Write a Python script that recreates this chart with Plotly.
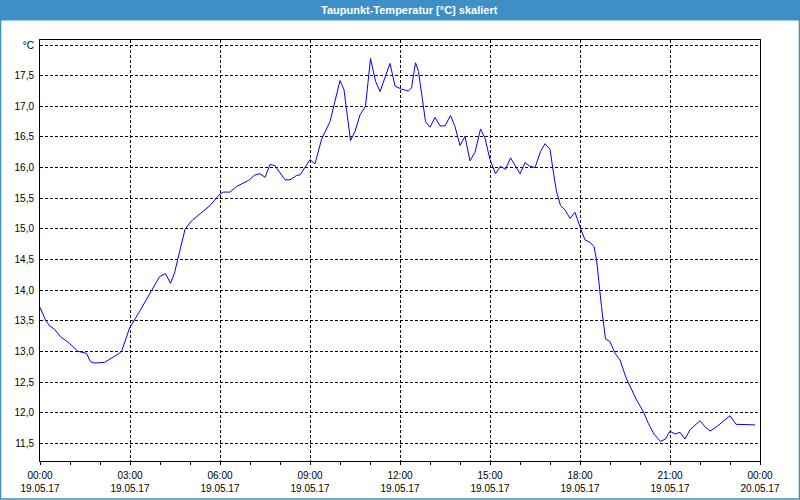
import plotly.graph_objects as go

times = ["00:00","00:11","00:19","00:29","00:41","00:59","01:16","01:33","01:41","01:49",
         "02:09","02:39","02:44","02:59","03:19","03:43","03:59","04:11","04:21","04:29",
         "04:36","04:46","04:50","05:03","05:27","05:40","06:00","06:07","06:20","06:33",
         "06:57","07:10","07:20","07:30","07:40","07:50","08:10","08:20","08:33","08:40",
         "09:00","09:10","09:23","09:40","10:00","10:08","10:13","10:21","10:30","10:40",
         "10:51","11:01","11:11","11:20","11:40","11:50","12:03","12:17","12:23","12:31",
         "12:37","12:47","12:51","13:00","13:10","13:20","13:30","13:41","13:50","14:00",
         "14:10","14:20","14:30","14:41","14:50","15:00","15:11","15:21","15:31","15:41",
         "16:00","16:10","16:20","16:30","16:41","16:50","17:00","17:07","17:13","17:21",
         "17:30","17:40","17:50","18:01","18:10","18:20","18:28","18:33","18:39","18:43",
         "18:47","18:51","19:00","19:10","19:20","19:33","19:53","20:07","20:17","20:28",
         "20:41","20:51","21:00","21:10","21:20","21:30","21:40","22:00","22:10","22:20",
         "22:30","23:00","23:12","23:23","23:50"]
values = [13.72,13.51,13.42,13.36,13.24,13.13,13.00,12.97,12.83,12.81,
          12.82,12.97,13.02,13.38,13.65,14.00,14.22,14.27,14.11,14.28,
          14.52,14.82,14.99,15.13,15.30,15.38,15.57,15.60,15.60,15.69,
          15.79,15.88,15.90,15.84,16.05,16.03,15.80,15.80,15.87,15.88,
          16.13,16.06,16.46,16.75,17.42,17.27,16.95,16.44,16.59,16.86,
          17.00,17.78,17.41,17.24,17.70,17.33,17.28,17.25,17.30,17.71,
          17.57,17.00,16.75,16.66,16.82,16.68,16.68,16.85,16.67,16.36,
          16.51,16.11,16.25,16.63,16.48,16.13,15.90,16.02,15.97,16.16,
          15.90,16.08,16.02,16.00,16.26,16.39,16.30,15.91,15.61,15.38,
          15.31,15.17,15.27,15.01,14.82,14.78,14.71,14.50,14.00,13.73,
          13.46,13.20,13.16,12.97,12.86,12.55,12.21,12.01,11.82,11.65,
          11.53,11.57,11.70,11.65,11.68,11.57,11.72,11.87,11.77,11.70,
          11.75,11.95,11.81,11.81,11.80]

y_tick_vals = [11.5, 12.0, 12.5, 13.0, 13.5, 14.0, 14.5, 15.0, 15.5, 16.0, 16.5, 17.0, 17.5, 18.0]
y_tick_text = ["11,5", "12,0", "12,5", "13,0", "13,5", "14,0", "14,5", "15,0", "15,5",
               "16,0", "16,5", "17,0", "17,5", "°C"]
x_tick_vals = ["2017-05-19 00:00", "2017-05-19 03:00", "2017-05-19 06:00", "2017-05-19 09:00",
               "2017-05-19 12:00", "2017-05-19 15:00", "2017-05-19 18:00", "2017-05-19 21:00",
               "2017-05-20 00:00"]
x_tick_text = ["00:00<br>19.05.17", "03:00<br>19.05.17", "06:00<br>19.05.17", "09:00<br>19.05.17",
               "12:00<br>19.05.17", "15:00<br>19.05.17", "18:00<br>19.05.17", "21:00<br>19.05.17",
               "00:00<br>20.05.17"]
title_text = "Taupunkt-Temperatur [°C] skaliert"

x = ["2017-05-19 " + t for t in times]

W, H = 800, 500
L, R, T, B = 40, 40, 40, 39
pw, ph = W - L - R, H - T - B

def px(xp):
    return (xp - L) / pw

def py(yp):
    return 1 - (yp - T) / ph

BLUE = "#3d8fc6"
FONT = "Liberation Sans"

fig = go.Figure(go.Scatter(x=x, y=values, mode="lines",
                           line=dict(color="#0000ff", width=1)))

fig.update_layout(
    width=W, height=H,
    margin=dict(l=L, r=R, t=T, b=B),
    paper_bgcolor="white", plot_bgcolor="white",
    showlegend=False,
    font=dict(family=FONT, size=10, color="black"),
    xaxis=dict(
        type="date",
        range=["2017-05-19 00:00", "2017-05-20 00:00"],
        tickvals=x_tick_vals, ticktext=x_tick_text,
        ticks="outside", ticklen=3, tickcolor="black",
        showline=True, linecolor="black", linewidth=1, mirror=True,
        showgrid=True, gridcolor="black", griddash="3px,2px", gridwidth=1,
        minor=dict(dtick=3600000, ticks="outside", ticklen=3, tickcolor="black", showgrid=False),
        zeroline=False,
        tickfont=dict(family=FONT, size=10, color="black"),
        ticklabelstandoff=2,
        automargin=False,
    ),
    yaxis=dict(
        range=[11.211, 18.082],
        tickvals=y_tick_vals, ticktext=y_tick_text,
        ticks="", showline=True, linecolor="black", linewidth=1, mirror=True,
        showgrid=True, gridcolor="black", griddash="3px,2px", gridwidth=1,
        zeroline=False,
        tickfont=dict(family=FONT, size=10, color="black"),
        ticklabelstandoff=3,
        automargin=False,
    ),
    shapes=[
        dict(type="rect", xref="paper", yref="paper",
             x0=px(0), x1=px(800), y0=py(0), y1=py(20.5),
             fillcolor=BLUE, line=dict(width=0), layer="below"),
        dict(type="rect", xref="paper", yref="paper",
             x0=px(0.5), x1=px(799.5), y0=py(0.5), y1=py(499),
             fillcolor="rgba(0,0,0,0)", line=dict(color=BLUE, width=1.5)),
    ],
    annotations=[
        dict(text="<b>" + title_text + "</b>", xref="paper", yref="paper",
             x=px(410), y=py(10), xanchor="center", yanchor="middle",
             showarrow=False, font=dict(family=FONT, size=11, color="white")),
    ],
)

fig.write_html("out.html")
